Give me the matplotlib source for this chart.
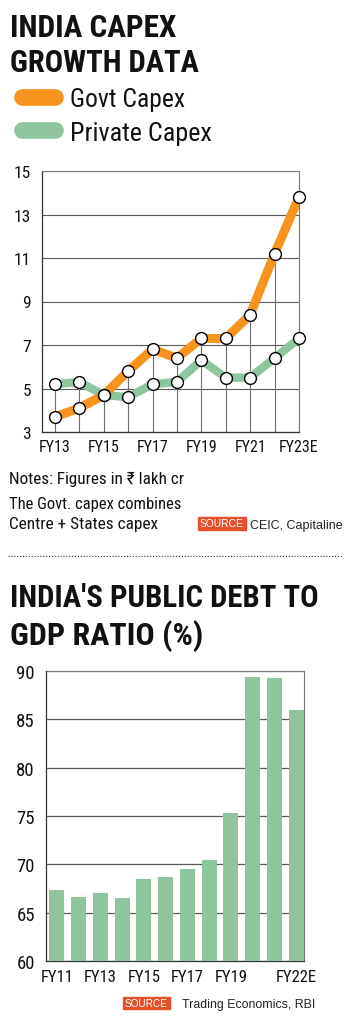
import matplotlib
matplotlib.use('Agg')
import matplotlib.pyplot as plt
from matplotlib import font_manager
from matplotlib.lines import Line2D
from matplotlib.patches import Rectangle
import numpy as np

# ---- data ----
capex_years = ['FY13', 'FY14', 'FY15', 'FY16', 'FY17', 'FY18', 'FY19', 'FY20', 'FY21', 'FY22', 'FY23E']
govt_capex = [3.7, 4.1, 4.7, 5.8, 6.8, 6.4, 7.3, 7.3, 8.4, 11.2, 13.8]
private_capex = [5.2, 5.3, 4.7, 4.6, 5.2, 5.3, 6.3, 5.5, 5.5, 6.4, 7.3]
capex_yticks = [3, 5, 7, 9, 11, 13, 15]

debt_years = ['FY11', 'FY12', 'FY13', 'FY14', 'FY15', 'FY16', 'FY17', 'FY18', 'FY19', 'FY20', 'FY21', 'FY22E']
debt_gdp = [67.3, 66.6, 67.0, 66.5, 68.5, 68.7, 69.5, 70.5, 75.3, 89.4, 89.3, 86.0]
debt_yticks = [60, 65, 70, 75, 80, 85, 90]

# ---- style ----
ORANGE = '#F7941D'
GREEN = '#8FC59E'
BADGE = '#E4502A'
GRID = '#5a5a5a'
TEXT = '#111111'

available = {f.name for f in font_manager.fontManager.ttflist}
cands = ['Roboto Condensed', 'Liberation Sans Narrow', 'Noto Sans Condensed', 'Open Sans Condensed',
         'DejaVu Sans Condensed', 'Roboto', 'Liberation Sans']
NARROW = [f for f in cands if f in available] + ['DejaVu Sans']
SANS = ['Liberation Sans', 'DejaVu Sans']

W, H = 350, 1020
fig = plt.figure(figsize=(W / 100, H / 100), dpi=100)
renderer = fig.canvas.get_renderer()


def fx(x):
    return x / W


def fy(y):
    return 1 - y / H


def ftext(x, y, s, width=None, **kw):
    # place text at pixel position; optionally scale font so text spans `width` px
    t = fig.text(fx(x), fy(y), s, **kw)
    if width is not None:
        w = t.get_window_extent(renderer).width
        t.set_fontsize(t.get_fontsize() * width / w)
    return t


# ---- header of chart 1 ----
ftext(10, 37, 'INDIA CAPEX', width=166, family=NARROW, weight='bold', fontsize=22, color=TEXT, va='baseline')
ftext(10, 72, 'GROWTH DATA', width=189, family=NARROW, weight='bold', fontsize=22, color=TEXT, va='baseline')

for yy, col, lab, wd in [(97.5, ORANGE, 'Govt Capex', 115), (131, GREEN, 'Private Capex', 142)]:
    fig.add_artist(Line2D([fx(21.5), fx(54.5)], [fy(yy), fy(yy)], color=col, lw=12,
                          solid_capstyle='round', transform=fig.transFigure))
    ftext(70, yy + 10, lab, width=wd, family=NARROW, fontsize=17, color=TEXT, va='baseline')

# ---- chart 1: capex lines ----
ax1 = fig.add_axes([fx(42), fy(433), fx(257), 261 / H])
x = np.arange(len(capex_years))
ax1.vlines(x, 3, np.maximum(govt_capex, private_capex), color='#6f6f6f', lw=0.8, zorder=1)
ax1.plot(x, private_capex, color=GREEN, lw=6, solid_joinstyle='round', zorder=3)
ax1.plot(x, govt_capex, color=ORANGE, lw=6.5, solid_joinstyle='round', zorder=4)
for series in (private_capex, govt_capex):
    ax1.plot(x, series, 'o', ms=8.5, mfc='white', mec='black', mew=1, zorder=5, clip_on=False)

ax1.set_xlim(-0.53, len(capex_years) - 1)
ax1.set_ylim(3, 15)
ax1.set_yticks(capex_yticks)
ax1.set_yticklabels([str(v) for v in capex_yticks], family=NARROW, fontsize=12.5, color=TEXT)
ax1.set_xticks(x[::2])
ax1.set_xticklabels(capex_years[::2], family=NARROW, fontsize=11.5, color=TEXT)
ax1.tick_params(length=0, pad=5)
ax1.tick_params(axis='y', pad=8)
ax1.grid(axis='y', color=GRID, lw=0.8, zorder=0)
ax1.set_axisbelow(True)
for side in ['left', 'bottom']:
    ax1.spines[side].set_color('#333333')
    ax1.spines[side].set_linewidth(0.9)
for side in ['top', 'right']:
    ax1.spines[side].set_color('#777777')
    ax1.spines[side].set_linewidth(0.8)

# ---- notes and source ----
ftext(9, 484, 'Notes: Figures in ₹ lakh cr', width=174, family=NARROW, fontsize=11, color=TEXT, va='baseline')
ftext(9, 509, 'The Govt. capex combines', width=172, family=NARROW, fontsize=11, color=TEXT, va='baseline')
ftext(9, 529, 'Centre + States capex', width=148, family=NARROW, fontsize=11, color=TEXT, va='baseline')

fig.add_artist(Rectangle((fx(198), fy(531)), fx(48), 13 / H, color=BADGE, transform=fig.transFigure))
ftext(222, 524.5, 'SOURCE', width=44, family=SANS, fontsize=8.3, color='white', ha='center', va='center')
ftext(250, 529, 'CEIC, Capitaline', width=92, family=SANS, fontsize=8.6, color='#222222', va='baseline')

fig.add_artist(Line2D([fx(8), fx(343)], [fy(557), fy(557)], color='#333333', lw=0.8,
                      linestyle=(0, (1, 1.6)), transform=fig.transFigure))

# ---- header of chart 2 ----
ftext(10, 607, "INDIA'S PUBLIC DEBT TO", width=308, family=NARROW, weight='bold', fontsize=22, color=TEXT, va='baseline')
ftext(10, 645, 'GDP RATIO (%)', width=193, family=NARROW, weight='bold', fontsize=22, color=TEXT, va='baseline')

# ---- chart 2: debt bars ----
ax2 = fig.add_axes([fx(46), fy(962), fx(258), 290 / H])
xb = np.arange(len(debt_years))
ax2.bar(xb, np.array(debt_gdp) - 60, bottom=60, width=0.69, color=GREEN, zorder=3)
ax2.set_xlim(-0.5, len(debt_years) - 1 + 0.36)
ax2.set_ylim(60, 90)
ax2.set_yticks(debt_yticks)
ax2.set_yticklabels([str(v) for v in debt_yticks], family=NARROW, fontsize=13.5, color=TEXT)
tick_idx = [0, 2, 4, 6, 8, 11]
ax2.set_xticks(tick_idx)
ax2.set_xticklabels([debt_years[i] for i in tick_idx], family=NARROW, fontsize=12, color=TEXT)
ax2.tick_params(length=0, pad=6)
ax2.tick_params(axis='y', pad=8)
ax2.grid(axis='y', color=GRID, lw=0.9, zorder=0)
ax2.set_axisbelow(True)
for side in ['left', 'bottom']:
    ax2.spines[side].set_color('#333333')
    ax2.spines[side].set_linewidth(0.9)
for side in ['top', 'right']:
    ax2.spines[side].set_color('#777777')
    ax2.spines[side].set_linewidth(0.8)
    ax2.spines[side].set_zorder(1)

fig.add_artist(Rectangle((fx(123), fy(1010)), fx(47), 12.5 / H, color=BADGE, transform=fig.transFigure))
ftext(146.5, 1004, 'SOURCE', width=43, family=SANS, fontsize=8.3, color='white', ha='center', va='center')
ftext(182, 1008, 'Trading Economics, RBI', width=133, family=SANS, fontsize=8.3, color='#222222', va='baseline')

fig.savefig('out.png', dpi=100, facecolor='white')
